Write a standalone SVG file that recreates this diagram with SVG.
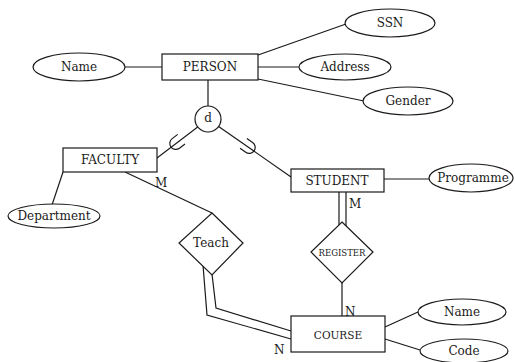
<svg xmlns="http://www.w3.org/2000/svg" width="515" height="362" viewBox="0 0 515 362">
<defs>
<style>
.s{fill:none;stroke:#1a1a1a;stroke-width:1.2}
.n{fill:#fff;stroke:#1a1a1a;stroke-width:1.2}
.t{font-family:"DejaVu Serif","Liberation Serif",serif;font-size:12px;fill:#1a1a1a;text-anchor:middle;dominant-baseline:central}
.l{font-family:"DejaVu Serif","Liberation Serif",serif;font-size:12px;fill:#1a1a1a}
</style>
<path id="sub" d="M8,-6 H1 A6,6 0 0 0 1,6 H8" fill="none" stroke="#1a1a1a" stroke-width="1.2"/>
</defs>
<rect width="515" height="362" fill="#fff"/>
<g id="connectors">
<line class="s" x1="125" y1="67" x2="162" y2="67"/>
<line class="s" x1="258" y1="55" x2="346" y2="24"/>
<line class="s" x1="258" y1="67" x2="299" y2="67"/>
<line class="s" x1="258" y1="79" x2="364" y2="101"/>
<line class="s" x1="208" y1="80" x2="208" y2="106"/>
<line class="s" x1="197.7" y1="126.9" x2="157" y2="158"/>
<line class="s" x1="218.6" y1="126.4" x2="291" y2="177"/>
<use href="#sub" transform="translate(175,144) rotate(-37.4)"/>
<use href="#sub" transform="translate(250,148) rotate(-145)"/>
<line class="s" x1="63" y1="172" x2="52" y2="205"/>
<line class="s" x1="384" y1="179" x2="429" y2="179"/>
<line class="s" x1="125" y1="172" x2="212" y2="213"/>
<polyline class="s" points="203,265 207,315 291,339"/>
<polyline class="s" points="212,274 216,308 291,331"/>
<line class="s" x1="339" y1="192" x2="339" y2="225"/>
<line class="s" x1="346" y1="192" x2="346" y2="226"/>
<line class="s" x1="342" y1="283" x2="342" y2="316"/>
<line class="s" x1="385" y1="327" x2="418" y2="312"/>
<line class="s" x1="385" y1="339" x2="420" y2="350"/>
<text class="l" x="155" y="187">M</text>
<text class="l" x="349" y="208">M</text>
<text class="l" x="345" y="316">N</text>
<text class="l" x="274" y="354">N</text>
</g>
<g id="person"><rect class="n" x="162" y="54" width="96" height="26"/><text class="t" x="210" y="67">PERSON</text></g>
<g id="name"><ellipse class="n" cx="79" cy="67" rx="46" ry="14"/><text class="t" x="79" y="67">Name</text></g>
<g id="ssn"><ellipse class="n" cx="390" cy="23" rx="45" ry="14"/><text class="t" x="390" y="23">SSN</text></g>
<g id="address"><ellipse class="n" cx="345" cy="67" rx="46" ry="13"/><text class="t" x="345" y="67">Address</text></g>
<g id="gender"><ellipse class="n" cx="408" cy="101" rx="45" ry="14"/><text class="t" x="408" y="101">Gender</text></g>
<g id="d"><circle class="n" cx="208" cy="119" r="13"/><text class="t" x="208" y="118">d</text></g>
<g id="faculty"><rect class="n" x="63" y="148" width="94" height="24"/><text class="t" x="110" y="160">FACULTY</text></g>
<g id="department"><ellipse class="n" cx="54" cy="216" rx="46" ry="12"/><text class="t" x="54" y="216">Department</text></g>
<g id="student"><rect class="n" x="291" y="169" width="93" height="23"/><text class="t" x="337" y="181">STUDENT</text></g>
<g id="programme"><ellipse class="n" cx="471" cy="178" rx="42" ry="14"/><text class="t" x="473" y="178">Programme</text></g>
<g id="teach"><polygon class="n" points="212,213 243,243 212,275 179,243"/><text class="t" x="211" y="243">Teach</text></g>
<g id="register"><polygon class="n" points="342,222 373,252 342,283 311,252"/><text class="t" x="342" y="252" style="font-size:10px" textLength="47" lengthAdjust="spacingAndGlyphs">REGISTER</text></g>
<g id="course"><rect class="n" x="291" y="316" width="94" height="36"/><text class="t" x="338" y="335" style="font-size:10.5px">COURSE</text></g>
<g id="course-name"><ellipse class="n" cx="462" cy="312" rx="44" ry="13"/><text class="t" x="462" y="312">Name</text></g>
<g id="code"><ellipse class="n" cx="464" cy="351" rx="44" ry="12"/><text class="t" x="464" y="351">Code</text></g>
</svg>
